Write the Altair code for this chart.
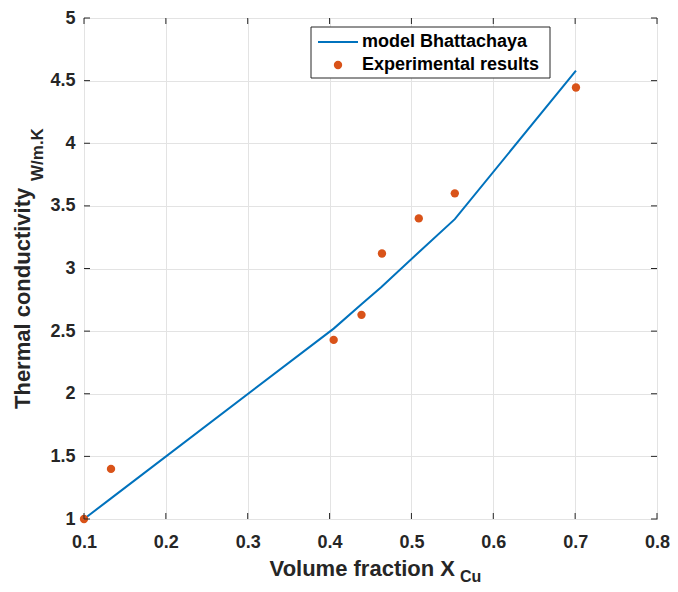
import altair as alt
import pandas as pd

# ---- data ----
series_names = ["model Bhattachaya", "Experimental results"]
model_x = [0.1, 0.133, 0.405, 0.44, 0.463, 0.509, 0.553, 0.701]
model_y = [1.0, 1.165, 2.52, 2.72, 2.85, 3.13, 3.394, 4.58]
exp_x = [0.1, 0.133, 0.405, 0.439, 0.464, 0.509, 0.553, 0.701]
exp_y = [1.0, 1.40, 2.43, 2.63, 3.12, 3.40, 3.60, 4.445]
x_ticks = [0.1, 0.2, 0.3, 0.4, 0.5, 0.6, 0.7, 0.8]
y_ticks = [1, 1.5, 2, 2.5, 3, 3.5, 4, 4.5, 5]
x_title = ["Volume fraction X", "Cu"]
y_title = ["Thermal conductivity", "W/m.K"]

BLUE = "#0072BD"
ORANGE = "#D95319"
DARK = "#262626"
FONT = "Liberation Sans"

W, H = 573, 501
PL, PT, PR, PB = 76, 10, 13, 65

df_model = pd.DataFrame({"x": model_x, "y": model_y, "series": series_names[0]})
df_exp = pd.DataFrame({"x": exp_x, "y": exp_y, "series": series_names[1]})
df_xt = pd.DataFrame({"v": x_ticks})
df_yt = pd.DataFrame({"v": y_ticks})

xscale = alt.Scale(domain=[0.1, 0.8], nice=False, zero=False)
yscale = alt.Scale(domain=[1, 5], nice=False, zero=False)

axis_common = dict(
    domain=False, ticks=False,
    labelFont=FONT, labelFontWeight="bold", labelFontSize=18, labelColor=DARK,
    title=None, labelFlush=False, labelOverlap=False,
    grid=True, gridColor="#e3e3e3",
)

x_bottom = alt.Axis(values=x_ticks, labelPadding=14, format=".1f", **axis_common)
y_left = alt.Axis(values=y_ticks, labelPadding=9, labelExpr="datum.value", **axis_common)

color = alt.Color("series:N", scale=alt.Scale(domain=series_names, range=[BLUE, ORANGE]),
                  legend=None)

line = alt.Chart(df_model).mark_line(strokeWidth=2, clip=False).encode(
    x=alt.X("x:Q", scale=xscale, axis=x_bottom),
    y=alt.Y("y:Q", scale=yscale, axis=y_left),
    color=color,
)

pts = alt.Chart(df_exp).mark_point(filled=True, size=70, opacity=1, shape="circle").encode(
    x=alt.X("x:Q", scale=xscale),
    y=alt.Y("y:Q", scale=yscale),
    color=color,
)

# ---- inward ticks on all four sides ----
tick_kw = dict(color=DARK, thickness=1, size=6, opacity=1)
t_bottom = alt.Chart(df_xt).mark_tick(orient="vertical", **tick_kw).encode(
    x=alt.X("v:Q", scale=xscale), y=alt.value(H - 3))
t_top = alt.Chart(df_xt).mark_tick(orient="vertical", **tick_kw).encode(
    x=alt.X("v:Q", scale=xscale), y=alt.value(3))
t_left = alt.Chart(df_yt).mark_tick(orient="horizontal", **tick_kw).encode(
    y=alt.Y("v:Q", scale=yscale), x=alt.value(3))
t_right = alt.Chart(df_yt).mark_tick(orient="horizontal", **tick_kw).encode(
    y=alt.Y("v:Q", scale=yscale), x=alt.value(W - 3))

# ---- legend (manual) ----
LX, LY = 227, 9
one = pd.DataFrame({"a": [0]})
leg_box = alt.Chart(one).mark_rect(fill="white", stroke=DARK, strokeWidth=1).encode(
    x=alt.value(LX), x2=alt.value(LX + 239), y=alt.value(LY), y2=alt.value(LY + 51))
leg_line = alt.Chart(one).mark_rule(color=BLUE, strokeWidth=2).encode(
    x=alt.value(LX + 7), x2=alt.value(LX + 47), y=alt.value(LY + 15))
leg_pt = alt.Chart(one).mark_point(filled=True, size=70, opacity=1, color=ORANGE, shape="circle").encode(
    x=alt.value(LX + 27), y=alt.value(LY + 38))
txt_kw = dict(align="left", baseline="middle", font=FONT, fontWeight="bold", fontSize=18, color="black")
leg_t1 = alt.Chart(pd.DataFrame({"t": [series_names[0]]})).mark_text(**txt_kw).encode(
    x=alt.value(LX + 51), y=alt.value(LY + 15), text="t:N")
leg_t2 = alt.Chart(pd.DataFrame({"t": [series_names[1]]})).mark_text(**txt_kw).encode(
    x=alt.value(LX + 51), y=alt.value(LY + 38), text="t:N")

# ---- axis titles with subscripts ----
xt_main = alt.Chart(pd.DataFrame({"t": [x_title[0]]})).mark_text(
    align="right", baseline="middle", font=FONT, fontWeight="bold", fontSize=22, color=DARK).encode(
    x=alt.value(371), y=alt.value(551), text="t:N")
xt_sub = alt.Chart(pd.DataFrame({"t": [x_title[1]]})).mark_text(
    align="left", baseline="middle", font=FONT, fontWeight="bold", fontSize=16, color=DARK).encode(
    x=alt.value(376), y=alt.value(559), text="t:N")
yt_main = alt.Chart(pd.DataFrame({"t": [y_title[0]]})).mark_text(
    align="left", baseline="middle", angle=270, font=FONT, fontWeight="bold", fontSize=22, color=DARK).encode(
    x=alt.value(-61), y=alt.value(391), text="t:N")
yt_sub = alt.Chart(pd.DataFrame({"t": [y_title[1]]})).mark_text(
    align="left", baseline="middle", angle=270, font=FONT, fontWeight="bold", fontSize=17, color=DARK).encode(
    x=alt.value(-46), y=alt.value(163), text="t:N")

chart = alt.layer(
    line, pts, t_bottom, t_top, t_left, t_right,
    leg_box, leg_line, leg_pt, leg_t1, leg_t2, xt_main, xt_sub, yt_main, yt_sub
).properties(
    width=W, height=H,
    autosize=alt.AutoSizeParams(type="none"),
    padding={"left": PL, "top": PT, "right": PR, "bottom": PB},
).configure_view(stroke=DARK, strokeWidth=1)

chart.save("out.html", embed_options={"renderer": "svg", "actions": False})
